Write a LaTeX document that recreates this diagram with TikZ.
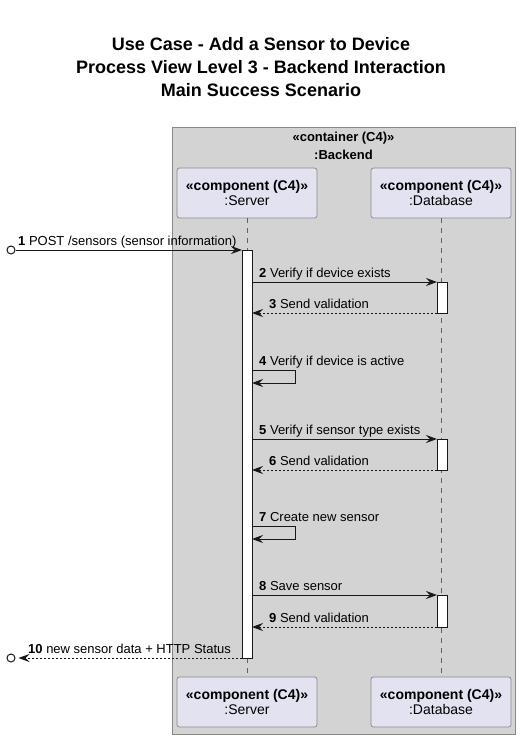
\documentclass[tikz,border=0pt]{standalone}
\usepackage{fontspec}
\setmainfont{Liberation Sans}
\usetikzlibrary{arrows.meta}
\definecolor{partfill}{HTML}{E2E2F0}
\definecolor{partline}{HTML}{8C8C8C}
\definecolor{groupfill}{HTML}{D3D3D3}
\definecolor{groupline}{HTML}{888888}
\definecolor{lifeline}{HTML}{606060}
\definecolor{ink}{HTML}{181818}
\tikzset{
  title/.style={font=\fontsize{18}{23}\selectfont\bfseries, align=center, inner sep=0pt},
  part/.style={draw=partline, fill=partfill, rounded corners=2.5pt, line width=0.8pt,
    minimum width=140pt, minimum height=50pt, align=center, inner sep=0pt,
    font=\fontsize{14}{15.5}\selectfont},
  grouplabel/.style={font=\fontsize{13}{17.5}\selectfont\bfseries, align=center, inner sep=0pt},
  life/.style={draw=lifeline, line width=0.8pt, dash pattern=on 5pt off 5pt},
  actbar/.style={draw=ink, fill=white, line width=1pt},
  tip/.style={-{Stealth[length=11pt, width=8pt, inset=4pt]}},
  msg/.style={draw=ink, line width=1pt, tip},
  reply/.style={msg, dash pattern=on 2pt off 2pt},
  lbl/.style={anchor=base west, inner sep=0pt, font=\fontsize{13}{15}\selectfont},
  endpoint/.style={circle, draw=ink, line width=1pt, fill=white, minimum size=8pt, inner sep=0pt},
}
\begin{document}
\begin{tikzpicture}[x=1pt, y=-1pt]
\useasboundingbox (0,0) rectangle (520,739);

% title
\node[title] (title) at (261,67) {Use Case - Add a Sensor to Device\\Process View Level 3 - Backend Interaction\\Main Success Scenario};

% backend container
\draw[draw=groupline, fill=groupfill, line width=0.8pt] (172,127) rectangle (515,734);
\node[grouplabel, anchor=base] (grp) at (343.5,159) {«container (C4)»\\:Backend};

% participants, head and foot
\node[part] (srvtop) at (247,193) {\textbf{«component (C4)»}\\:Server};
\node[part] (dbtop)  at (441,193) {\textbf{«component (C4)»}\\:Database};
\node[part] (srvbot) at (247,702) {\textbf{«component (C4)»}\\:Server};
\node[part] (dbbot)  at (441,702) {\textbf{«component (C4)»}\\:Database};

% lifelines
\draw[life] (srvtop.south) -- (srvbot.north);
\draw[life] (dbtop.south) -- (dbbot.north);

% activation bars
\draw[actbar] (242,250) rectangle (252,658);
\draw[actbar] (437,282) rectangle (447,313);
\draw[actbar] (437,439) rectangle (447,470);
\draw[actbar] (437,595) rectangle (447,627);

% message end points
\node[endpoint] (ext1) at (11,250) {};
\node[endpoint] (ext10) at (11,658) {};
\coordinate (s1) at (242,250);
\coordinate (s2) at (252,282);  \coordinate (d2) at (437,282);
\coordinate (d3) at (437,313);  \coordinate (s3) at (252,313);
\coordinate (s4a) at (252,370); \coordinate (s4b) at (252,383);
\coordinate (s5) at (252,439);  \coordinate (d5) at (437,439);
\coordinate (d6) at (437,470);  \coordinate (s6) at (252,470);
\coordinate (s7a) at (252,526); \coordinate (s7b) at (252,539);
\coordinate (s8) at (252,595);  \coordinate (d8) at (437,595);
\coordinate (d9) at (437,627);  \coordinate (s9) at (252,627);
\coordinate (s10) at (242,658);

% messages
\draw[msg] (ext1) -- (s1);
\node[lbl] (l1) at (18,245) {\textbf{1} POST /sensors (sensor information)};
\draw[msg] (s2) -- (d2);
\node[lbl] (l2) at (259,277) {\textbf{2} Verify if device exists};
\draw[reply] (d3) -- (s3);
\node[lbl] (l3) at (269,308) {\textbf{3} Send validation};
\draw[msg] (s4a) -- ++(43,0) |- (s4b);
\node[lbl] (l4) at (259,365) {\textbf{4} Verify if device is active};
\draw[msg] (s5) -- (d5);
\node[lbl] (l5) at (259,434) {\textbf{5} Verify if sensor type exists};
\draw[reply] (d6) -- (s6);
\node[lbl] (l6) at (269,465) {\textbf{6} Send validation};
\draw[msg] (s7a) -- ++(43,0) |- (s7b);
\node[lbl] (l7) at (259,521) {\textbf{7} Create new sensor};
\draw[msg] (s8) -- (d8);
\node[lbl] (l8) at (259,590) {\textbf{8} Save sensor};
\draw[reply] (d9) -- (s9);
\node[lbl] (l9) at (269,622) {\textbf{9} Send validation};
\draw[reply, shorten >=3pt] (s10) -- (ext10);
\node[lbl] (l10) at (28,653) {\textbf{10} new sensor data + HTTP Status};
\end{tikzpicture}
\end{document}
